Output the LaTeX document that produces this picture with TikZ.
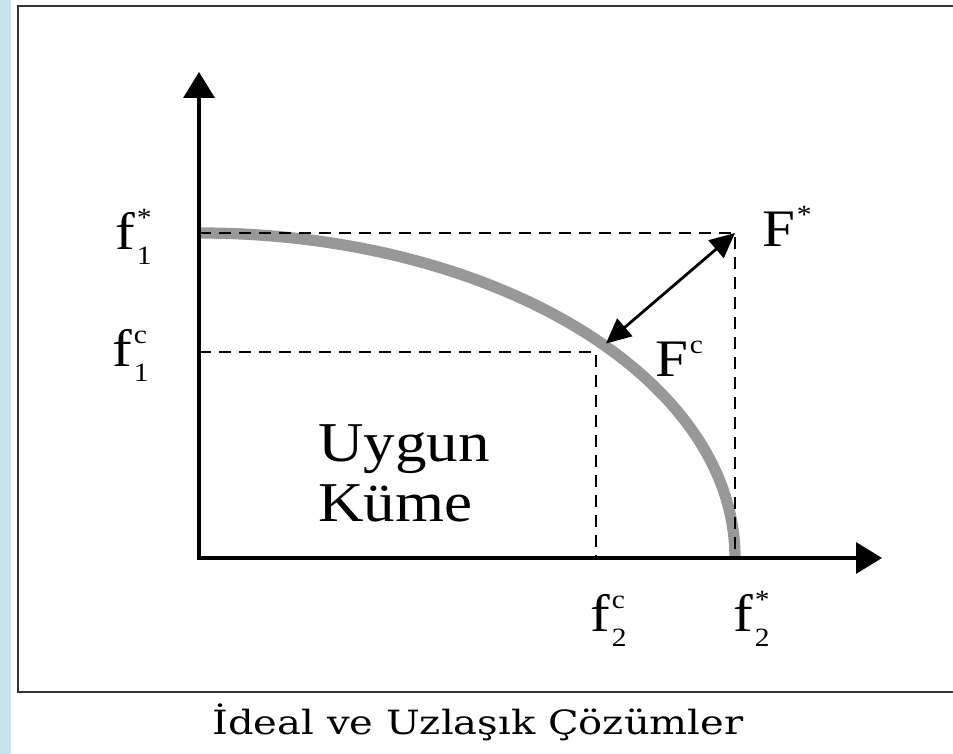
\documentclass[tikz,border=0pt]{standalone}
\usepackage{fontspec}
\setmainfont[FakeStretch=1.12]{Liberation Serif}
\newfontfamily\capfont[FakeStretch=1.2]{DejaVu Serif}
\usetikzlibrary{arrows.meta}
\definecolor{curvegray}{RGB}{152,152,152}
\definecolor{stripblue}{RGB}{198,227,235}
% f_1^* style labels
\newcommand{\lbl}[3]{#1\kern1pt\rlap{\raisebox{13.5pt}{\fontsize{15}{15}\selectfont #3}}\raisebox{-8.5pt}{\fontsize{15}{15}\selectfont #2}}

\begin{document}
\begin{tikzpicture}[
  axis/.style={line width=2pt,{Triangle[length=0.52cm,width=0.62cm]}-{Triangle[length=0.52cm,width=0.62cm]}},
  guide/.style={line width=1.1pt,dash pattern=on 0.24cm off 0.16cm},
  front/.style={line width=6.4pt,curvegray},
  big/.style={font=\fontsize{30}{34}\selectfont,inner sep=0pt},
]
\useasboundingbox (0,0) rectangle (19.06,15.08);
\fill[stripblue] (0,0) rectangle (0.22,15.08);
\draw[line width=1.2pt,black!80] (0.36,1.24) rectangle (19.5,14.96);

\coordinate (O) at (3.98,3.92);
\coordinate (ytop) at (3.98,13.64);
\coordinate (xend) at (17.64,3.92);
\coordinate (Fs) at (14.70,10.42);
\coordinate (Fc) at (11.92,8.04);

% pareto front
\draw[front] (O |- Fs) arc[start angle=90,end angle=0,x radius=10.72,y radius=6.5];

\draw[guide] (O |- Fs) -- (Fs) -- (Fs |- O);
\draw[guide] (O |- Fc) -- (Fc) -- (Fc |- O);
\draw[axis] (ytop) -- (O) -- (xend);
\draw[line width=1.6pt,{Triangle[length=0.5cm,width=0.46cm]}-{Triangle[length=0.5cm,width=0.46cm]},shorten <=0.26cm] (Fc) -- (Fs);

\node[big,anchor=base west] (f1s) at (2.30,10.08) {\lbl{f}{1}{*}};
\node[big,anchor=base west] (f1c) at (2.24,7.74) {\lbl{f}{1}{c}};
\node[big,anchor=base west] (f2c) at (11.80,2.44) {\lbl{f}{2}{c}};
\node[big,anchor=base west] (f2s) at (14.66,2.44) {\lbl{f}{2}{*}};
\node[big,anchor=base west] (Fsl) at (15.24,10.14) {\lbl{F}{}{*}};
\node[big,anchor=base west] (Fcl) at (13.10,7.54) {\lbl{F}{}{c}};
\node[big,font=\fontsize{32}{36}\selectfont,anchor=base west] (uygun) at (6.36,5.84) {Uygun};
\node[big,font=\fontsize{32}{36}\selectfont,anchor=base west] (kume) at (6.36,4.64) {Küme};

\node[font=\capfont\fontsize{19}{22}\selectfont,anchor=base] (cap) at (9.56,0.38) {İdeal ve Uzlaşık Çözümler};
\end{tikzpicture}
\end{document}
